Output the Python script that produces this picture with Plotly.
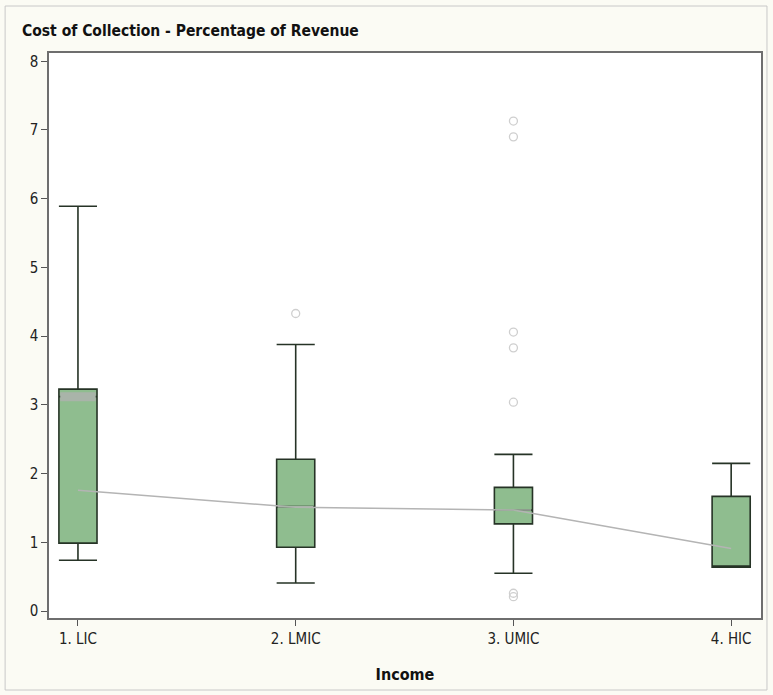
import plotly.graph_objects as go

categories = ["1. LIC", "2. LMIC", "3. UMIC", "4. HIC"]
q1 = [0.99, 0.93, 1.27, 0.64]
q3 = [3.23, 2.21, 1.80, 1.67]
medians = [3.12, 1.52, 1.47, 0.64]
lower_whisker = [0.74, 0.41, 0.55, 0.64]
upper_whisker = [5.89, 3.88, 2.28, 2.15]
means = [1.76, 1.51, 1.47, 0.91]
outlier_cat = [1, 2, 2, 2, 2, 2, 2, 2]
outlier_val = [4.33, 7.13, 6.90, 4.06, 3.83, 3.04, 0.26, 0.21]

y_ticks = [0, 1, 2, 3, 4, 5, 6, 7, 8]

FONT = "Liberation Sans Narrow, Arial Narrow, DejaVu Sans Condensed, Arial, sans-serif"
BOX_W = 0.175
median_widths = [9, 1.5, 1.5, 0]

xs = list(range(len(categories)))

fig = go.Figure()

# mean connect line (behind boxes)
fig.add_trace(go.Scatter(
    x=xs, y=means, mode="lines",
    line=dict(color="#b4b4b4", width=1.5),
    hoverinfo="skip", showlegend=False,
))

fig.add_trace(go.Box(
    x=xs, q1=q1, q3=q3, median=medians,
    lowerfence=lower_whisker, upperfence=upper_whisker,
    width=BOX_W, whiskerwidth=1,
    fillcolor="#8fbd8f",
    line=dict(color="#263326", width=1.6),
    boxpoints=False, showlegend=False,
))

# median lines drawn in gray over the box
for i, m in enumerate(medians):
    w = median_widths[i]
    if w <= 0:
        continue
    fig.add_trace(go.Scatter(
        x=[xs[i] - BOX_W / 2 + 0.006, xs[i] + BOX_W / 2 - 0.006], y=[m, m],
        mode="lines", line=dict(color="#a9b4a9", width=w),
        hoverinfo="skip", showlegend=False,
    ))

fig.add_trace(go.Scatter(
    x=[xs[c] for c in outlier_cat], y=outlier_val, mode="markers",
    marker=dict(symbol="circle-open", size=8, color="#cfcfcf", line=dict(width=1.3)),
    showlegend=False,
))

axis_common = dict(
    showline=True, linecolor="#6e6e6e", linewidth=1.5, mirror=True,
    ticks="outside", tickcolor="#555555", tickwidth=1, ticklen=6,
    showgrid=False, zeroline=False,
    tickfont=dict(family=FONT, size=15, color="#222222"),
)

fig.update_layout(
    width=773, height=695,
    margin=dict(l=49, r=10, t=53, b=77),
    paper_bgcolor="#fbfbf4",
    plot_bgcolor="#ffffff",
    title=dict(
        text="<b>Cost of Collection - Percentage of Revenue</b>",
        x=22 / 773, xanchor="left", y=1 - 31 / 695, yanchor="middle",
        font=dict(family=FONT, size=15.5, color="#111111"),
    ),
    xaxis=dict(
        **axis_common,
        tickvals=xs, ticktext=categories,
        range=[-0.133, 3.137],
        title=dict(text="<b>Income</b>", font=dict(family=FONT, size=16, color="#111111"), standoff=22),
    ),
    yaxis=dict(
        **axis_common,
        tickvals=y_ticks,
        range=[-0.10, 8.12],
    ),
)

fig.add_shape(
    type="rect", xref="paper", yref="paper",
    x0=(5 - 49) / 714, x1=(769 - 49) / 714,
    y0=(618 - 690) / 565, y1=(618 - 6) / 565,
    line=dict(color="#c8c8c8", width=1), fillcolor="rgba(0,0,0,0)", layer="below",
)

fig.write_html("out.html", config={"displayModeBar": False},
               post_script="document.body.style.margin='0';")
